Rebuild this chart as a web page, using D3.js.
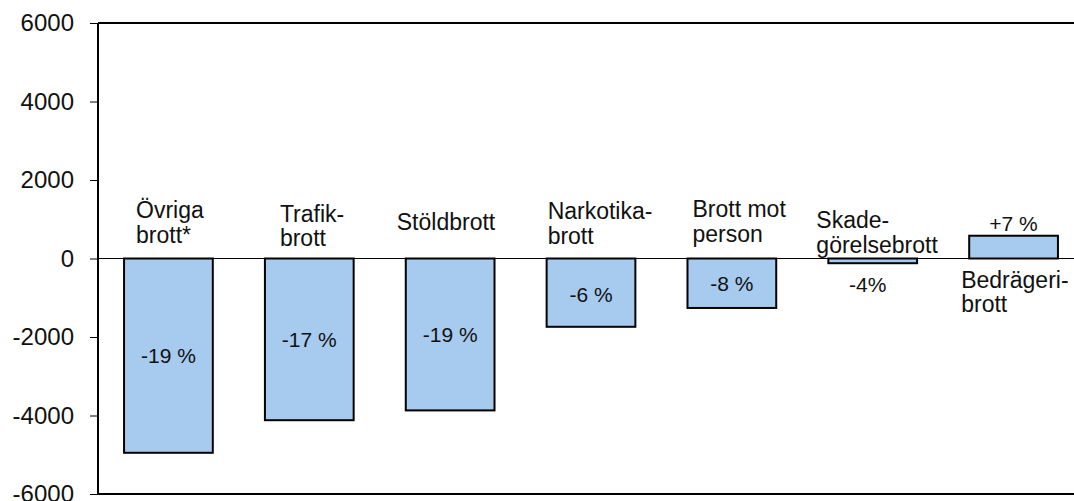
<!DOCTYPE html>
<html>
<head>
<meta charset="utf-8">
<script src="https://cdn.jsdelivr.net/npm/d3@7"></script>
<style>
  body { margin: 0; background: #fff; }
  svg { display: block; font-family: "Liberation Sans", Arial, sans-serif; }
</style>
</head>
<body>
<svg width="1074" height="501"></svg>
<script>
// categories, each label split into lines
const categories = ["Övriga brott*", "Trafikbrott", "Stöldbrott", "Narkotikabrott", "Brott mot person", "Skadegörelsebrott", "Bedrägeribrott"];
const labelLines = [["Övriga", "brott*"], ["Trafik-", "brott"], ["Stöldbrott"], ["Narkotika-", "brott"], ["Brott mot", "person"], ["Skade-", "görelsebrott"], ["Bedrägeri-", "brott"]];
// change in number of offences
const values = [-4950, -4120, -3870, -1740, -1260, -120, 580];
const pctLabels = ["-19 %", "-17 %", "-19 %", "-6 %", "-8 %", "-4%", "+7 %"];
const yTicks = [6000, 4000, 2000, 0, -2000, -4000, -6000];

// where the hand-placed labels sit (value units for height, px offset from bar left)
const catLabelY = [1030, 930, 725, 1005, 1055, 775, -750];
const catLabelDx = [12, 15, -9, 1, 5, -12, -8];
const pctLabelY = [-2650, -2250, -2120, -1100, -830, -850, 700];
const pctLabelDx = [0, 0, 0, 0, 0, -5, 0];

const svg = d3.select("svg");
const left = 98, right = 1084;

const x = d3.scaleBand().domain(categories).range([left, right]).paddingInner(0.37).paddingOuter(0.185);
const y = d3.scaleLinear().domain([-6000, 6000]).range([494, 23]);

// y axis, plain hyphen for minus like the original
const yAxis = svg.append("g")
  .attr("transform", `translate(${left},0)`)
  .call(d3.axisLeft(y).tickValues(yTicks).tickSize(8).tickPadding(16).tickFormat(d => String(d)));
yAxis.select(".domain").remove();
yAxis.selectAll(".tick line").attr("stroke", "#000").attr("stroke-width", 1);
yAxis.selectAll(".tick text").attr("font-size", 24).attr("fill", "#111").attr("font-family", "Liberation Sans, Arial, sans-serif");

// frame lines: left, top, bottom
svg.append("line").attr("x1", left).attr("x2", left).attr("y1", y(6000)).attr("y2", y(-6000))
  .attr("stroke", "#000").attr("stroke-width", 2);
svg.append("line").attr("x1", left).attr("x2", 1074).attr("y1", y(6000)).attr("y2", y(6000))
  .attr("stroke", "#000").attr("stroke-width", 2);
svg.append("line").attr("x1", left).attr("x2", 1074).attr("y1", y(-6000)).attr("y2", y(-6000))
  .attr("stroke", "#000").attr("stroke-width", 2);

// bars
svg.selectAll(".bar")
  .data(values)
  .enter()
  .append("rect")
  .classed("bar", true)
  .attr("x", (d, i) => x(categories[i]))
  .attr("width", x.bandwidth())
  .attr("y", d => y(Math.max(0, d)))
  .attr("height", d => Math.abs(y(d) - y(0)))
  .attr("fill", "#a7caef")
  .attr("stroke", "#000")
  .attr("stroke-width", 2);

// zero line
svg.append("line").attr("x1", left).attr("x2", 1074).attr("y1", y(0)).attr("y2", y(0))
  .attr("stroke", "#000").attr("stroke-width", 1);

// category labels
categories.forEach(function (c, i) {
  const t = svg.append("text")
    .attr("x", x(c) + catLabelDx[i])
    .attr("y", y(catLabelY[i]))
    .attr("font-size", 23)
    .attr("fill", "#111");
  labelLines[i].forEach(function (line, j) {
    t.append("tspan").attr("x", x(c) + catLabelDx[i]).attr("dy", j === 0 ? 0 : 24.5).text(line);
  });
});

// percentage labels
svg.selectAll(".pct")
  .data(pctLabels)
  .enter()
  .append("text")
  .classed("pct", true)
  .attr("x", (d, i) => x(categories[i]) + x.bandwidth() / 2 + pctLabelDx[i])
  .attr("y", (d, i) => y(pctLabelY[i]))
  .attr("text-anchor", "middle")
  .attr("font-size", 21)
  .attr("fill", "#111")
  .text(d => d);
</script>
</body>
</html>
